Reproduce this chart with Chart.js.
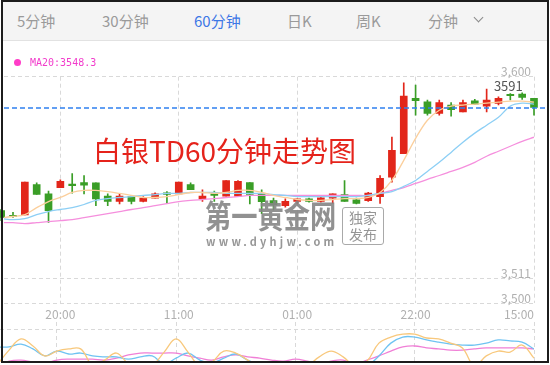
<!DOCTYPE html>
<html>
<head>
<meta charset="utf-8">
<script src="https://cdn.jsdelivr.net/npm/chart.js@4.4.0/dist/chart.umd.min.js"></script>
<style>
  body { margin:0; width:550px; height:365px; overflow:hidden; background:#fff; position:relative;
         font-family:"Noto Sans CJK SC","Noto Sans",sans-serif; }
  #frame { position:absolute; left:1px; top:0; width:548px; height:363px; box-sizing:border-box;
           border:2px solid #1c1c1c; z-index:10; }
  #tabs { position:absolute; left:2px; top:1px; width:546px; height:39px; background:#f4f4f4;
          border-bottom:1px solid #e2e2e2; }
  .tab { position:absolute; top:10px; font-size:15px; line-height:20px; color:#9a9a9a; white-space:nowrap; }
  .tab.on { color:#3d77e6; }
  #chev { position:absolute; left:473px; top:13px; width:6px; height:6px;
          border-right:1.5px solid #8a8a8a; border-bottom:1.5px solid #8a8a8a; transform:rotate(45deg); }
  #main { position:absolute; left:0; top:41px; }
  #ind { position:absolute; left:0; top:322px; }
  #legend { position:absolute; left:14px; top:57px; font:10px "DejaVu Sans Mono",monospace; color:#f23bcb; line-height:12px; }
  #legend i { display:inline-block; width:7px; height:7px; border-radius:50%; background:#ff3dc8; margin-right:9px; vertical-align:0px; }
  #title { position:absolute; left:93px; top:133px; font-size:28px; line-height:34px; color:#e5231b; white-space:nowrap; }
  #wm { position:absolute; left:205px; top:196px; font-size:32px; line-height:36px; font-weight:bold; color:#858585;
        transform:scaleX(0.82); transform-origin:left top; white-space:nowrap; opacity:0.9; }
  #wmurl { position:absolute; left:206px; top:235px; font-size:11px; line-height:12px; font-weight:bold; color:#8c8c8c;
           letter-spacing:3.2px; white-space:nowrap; opacity:0.9; }
  #wmbox { position:absolute; left:342px; top:207px; width:42px; height:38px; box-sizing:border-box;
           border:1px solid #a0a0a0; border-radius:3px; font-size:14px; line-height:17px; color:#8a8a8a;
           text-align:center; padding-top:1px; opacity:0.9; }
</style>
</head>
<body>
<div id="tabs">
  <div class="tab" style="left:15px">5分钟</div>
  <div class="tab" style="left:100px">30分钟</div>
  <div class="tab on" style="left:192px">60分钟</div>
  <div class="tab" style="left:285px">日K</div>
  <div class="tab" style="left:354px">周K</div>
  <div class="tab" style="left:426px">分钟</div>
  <div id="chev"></div>
</div>
<canvas id="main" width="550" height="285"></canvas>
<canvas id="ind" width="550" height="40"></canvas>
<div id="legend"><i></i>MA20:3548.3</div>
<div id="title">白银TD60分钟走势图</div>
<div id="wm">第一黄金网</div>
<div id="wmurl">www.dyhjw.com</div>
<div id="wmbox">独家<br>发布</div>
<div id="frame"></div>
<script>
// x positions are candle indexes, gridlines/labels only at these
const xTickIdx = [5, 15, 25, 35, 45];
const xTickLabels = ['20:00', '11:00', '01:00', '22:00', '15:00'];
const yTicks = [3500, 3511, 3600];

const opens  = [3540.9,3538.5,3539.0,3552.4,3548.3,3551.0,3552.4,3553.3,3553.2,3547.3,3545.0,3547.1,3545.0,3546.4,3548.5,3548.3,3552.4,3546.1,3547.9,3547.3,3547.3,3553.3,3548.3,3545.3,3543.1,3545.0,3546.1,3545.0,3546.4,3548.0,3545.7,3545.3,3547.1,3555.7,3566.0,3590.4,3588.9,3583.8,3587.5,3584.5,3589.4,3587.0,3588.2,3591.9,3592.3,3590.4];
const highs  = [3541.5,3540.2,3553.5,3553.2,3549.5,3554.5,3557.2,3556.4,3553.2,3548.3,3548.3,3547.5,3547.1,3548.7,3549.3,3553.5,3553.2,3550.1,3549.5,3554.2,3554.2,3553.3,3550.1,3546.4,3546.1,3546.1,3546.4,3547.1,3548.3,3554.2,3546.4,3549.0,3556.4,3573.4,3597.3,3596.3,3589.7,3589.7,3588.6,3589.7,3590.0,3594.5,3591.1,3592.6,3592.9,3590.4];
const lows   = [3536.5,3537.9,3539.0,3548.0,3535.7,3551.0,3548.6,3548.3,3543.1,3543.1,3543.9,3543.9,3544.7,3546.4,3544.2,3548.3,3550.2,3545.0,3545.0,3547.3,3547.3,3543.9,3539.5,3541.2,3542.4,3543.9,3544.6,3544.6,3544.1,3545.0,3543.9,3545.0,3544.1,3553.5,3566.0,3583.0,3583.0,3583.0,3582.6,3584.5,3587.9,3584.5,3587.5,3589.7,3590.0,3583.0];
const closes = [3537.9,3538.2,3553.5,3548.0,3540.9,3553.8,3551.9,3552.1,3546.1,3545.0,3547.3,3545.0,3546.4,3548.3,3548.1,3553.5,3550.2,3547.3,3547.6,3554.2,3553.8,3548.0,3544.9,3543.4,3545.0,3546.1,3545.0,3546.5,3548.3,3545.0,3544.1,3548.6,3555.2,3567.5,3591.4,3589.4,3583.8,3588.6,3585.5,3588.6,3587.9,3589.7,3590.4,3591.6,3590.9,3586.4];

const ma5  = [3537.8,3538.3,3539.1,3542.2,3544.9,3546.7,3548.9,3549.8,3549.8,3549.3,3548.5,3547.6,3546.7,3546.7,3547.1,3548.0,3548.9,3548.9,3548.5,3548.9,3549.8,3549.8,3548.9,3547.6,3546.7,3545.8,3545.4,3545.4,3545.8,3546.2,3546.2,3546.7,3548.9,3554.2,3563.1,3572.8,3580.8,3585.2,3587.0,3587.5,3587.9,3588.3,3588.8,3589.2,3589.2,3588.8];
const ma10 = [3537.4,3536.9,3537.4,3539.1,3540.5,3541.4,3542.2,3543.6,3545.4,3546.2,3546.7,3547.1,3547.6,3548.0,3548.5,3548.5,3548.9,3548.9,3548.9,3548.5,3548.5,3548.5,3548.5,3548.0,3547.6,3547.1,3547.1,3547.1,3547.1,3547.1,3547.1,3547.6,3548.5,3549.3,3551.6,3554.2,3558.2,3562.2,3566.6,3571.1,3575.1,3578.6,3582.1,3587.0,3588.3,3587.9];
const ma20 = [3535.6,3535.6,3535.2,3535.6,3536.0,3536.5,3536.9,3537.8,3538.7,3539.6,3540.5,3541.4,3542.2,3543.1,3544.0,3544.9,3545.4,3545.8,3546.2,3546.7,3547.1,3547.6,3547.6,3547.6,3547.6,3547.6,3547.6,3547.6,3547.6,3547.6,3547.6,3547.6,3548.5,3549.8,3551.1,3552.9,3554.7,3556.4,3558.2,3560.0,3562.2,3564.9,3567.1,3569.3,3571.5,3573.3];

// lower indicator panel
const indYellow = [-9,37,72,50,19,34,41,41,-9,6,28,-6,-25,-12,31,72,31,-12,0,34,28,6,-19,-25,-25,-25,-12,16,34,16,-12,3,59,78,87,87,75,72,59,44,-12,19,34,31,53,12];
const indBlue   = [47,47,56,41,19,34,25,28,19,16,16,9,16,19,-6,12,28,6,-3,12,25,6,-6,-6,-3,-3,-3,-12,-19,-19,-19,-12,19,59,78,78,69,62,56,53,53,59,69,66,62,41];
const indPink   = [-12,3,6,0,-3,6,9,9,9,6,12,22,28,28,28,28,19,12,6,16,22,16,12,6,3,9,3,-6,3,6,-6,6,19,34,47,50,44,41,37,37,41,44,44,44,44,41];

const markIdx = 43;
const markText = '3591';

const RED = '#e2261a', GREEN = '#3a9e27';
const candleColors = opens.map((o, i) => closes[i] >= o ? RED : GREEN);
const xs = opens.map((o, i) => i);
const X_MIN = 0.24, X_MAX = 45;
const GRID = '#d9d9d9';

const pts = arr => arr.map((v, i) => ({x: i, y: v}));

const lastPlugin = {
  id: 'lastPlugin',
  afterDatasetsDraw(chart) {
    const {ctx, chartArea, scales} = chart;
    const y = scales.y.getPixelForValue(closes[closes.length - 1]);
    ctx.save();
    ctx.strokeStyle = '#2f80f0';
    ctx.lineWidth = 1.6;
    ctx.setLineDash([5, 3]);
    ctx.beginPath();
    ctx.moveTo(chartArea.left, Math.round(y));
    ctx.lineTo(chartArea.right + 12, Math.round(y));
    ctx.stroke();
    ctx.setLineDash([]);
    ctx.fillStyle = '#555';
    ctx.font = '13px "Noto Sans CJK SC", sans-serif';
    ctx.textAlign = 'center';
    ctx.textBaseline = 'bottom';
    ctx.fillText(markText, scales.x.getPixelForValue(markIdx) - 2, scales.y.getPixelForValue(highs[markIdx]) - 1);
    ctx.restore();
  }
};

new Chart(document.getElementById('main'), {
  type: 'bar',
  data: {
    datasets: [
      { type: 'line', data: pts(ma5), borderColor: '#fbcf9c', borderWidth: 1.3, pointRadius: 0, tension: 0.35, order: 0 },
      { type: 'line', data: pts(ma10), borderColor: '#8dcff5', borderWidth: 1.3, pointRadius: 0, tension: 0.35, order: 0 },
      { type: 'line', data: pts(ma20), borderColor: '#f58fdd', borderWidth: 1.3, pointRadius: 0, tension: 0.35, order: 0 },
      { data: xs.map(i => ({x: i, y: [lows[i], highs[i]]})), backgroundColor: candleColors,
        barThickness: 1, grouped: false, order: 3, clip: 8 },
      { data: xs.map(i => ({x: i, y: [opens[i], closes[i]]})), backgroundColor: candleColors,
        barThickness: 7, minBarLength: 1.5, grouped: false, order: 2, clip: 8 }
    ]
  },
  options: {
    responsive: false,
    animation: false,
    layout: { padding: { left: 0, right: 16, top: 35.7, bottom: 0.3 } },
    plugins: { legend: { display: false }, tooltip: { enabled: false } },
    scales: {
      x: {
        type: 'linear', min: X_MIN, max: X_MAX, offset: false,
        afterBuildTicks: s => { s.ticks = [{value: X_MIN}].concat(xTickIdx.map(v => ({value: v}))); },
        grid: { offset: false, drawTicks: false, color: c => c.index === 0 ? 'rgba(0,0,0,0)' : GRID },
        border: { display: false, dash: [4, 3] },
        ticks: {
          align: 'inner', padding: 4, maxRotation: 0, autoSkip: false, color: '#b0b0b0',
          font: { size: 12, family: '"Noto Sans CJK SC", sans-serif' },
          callback: (v, i) => i === 0 ? '' : xTickLabels[i - 1]
        }
      },
      y: {
        position: 'right', min: 3500, max: 3600,
        afterBuildTicks: s => { s.ticks = yTicks.map(v => ({value: v})); },
        afterFit: s => { s.width = 0; },
        grid: { drawTicks: false, color: GRID },
        border: { display: false, dash: [4, 3] },
        ticks: {
          mirror: true, padding: -3, labelOffset: -5, color: '#b0b0b0',
          font: { size: 12, family: '"Noto Sans CJK SC", sans-serif' },
          callback: v => v.toLocaleString('en-US')
        }
      }
    }
  },
  plugins: [lastPlugin]
});

new Chart(document.getElementById('ind'), {
  type: 'line',
  data: {
    datasets: [
      { data: pts(indYellow), borderColor: '#f8c87c', borderWidth: 1.3, pointRadius: 0, tension: 0.4 },
      { data: pts(indBlue), borderColor: '#6fc3f2', borderWidth: 1.3, pointRadius: 0, tension: 0.4 },
      { data: pts(indPink), borderColor: '#f07fd6', borderWidth: 1.3, pointRadius: 0, tension: 0.4 }
    ]
  },
  options: {
    responsive: false,
    animation: false,
    layout: { padding: { left: 0, right: 16, top: 0, bottom: 0 } },
    plugins: { legend: { display: false }, tooltip: { enabled: false } },
    scales: {
      x: {
        type: 'linear', min: X_MIN, max: X_MAX,
        afterBuildTicks: s => { s.ticks = xTickIdx.map(v => ({value: v})); },
        grid: { drawTicks: false, color: GRID },
        border: { display: false, dash: [4, 3] },
        ticks: { display: false }
      },
      y: {
        position: 'right', min: 0, max: 125,
        afterBuildTicks: s => { s.ticks = [{value: 100}]; },
        afterFit: s => { s.width = 0; },
        grid: { drawTicks: false, color: GRID },
        border: { display: false, dash: [4, 3] },
        ticks: { display: false }
      }
    }
  }
});
</script>
</body>
</html>
